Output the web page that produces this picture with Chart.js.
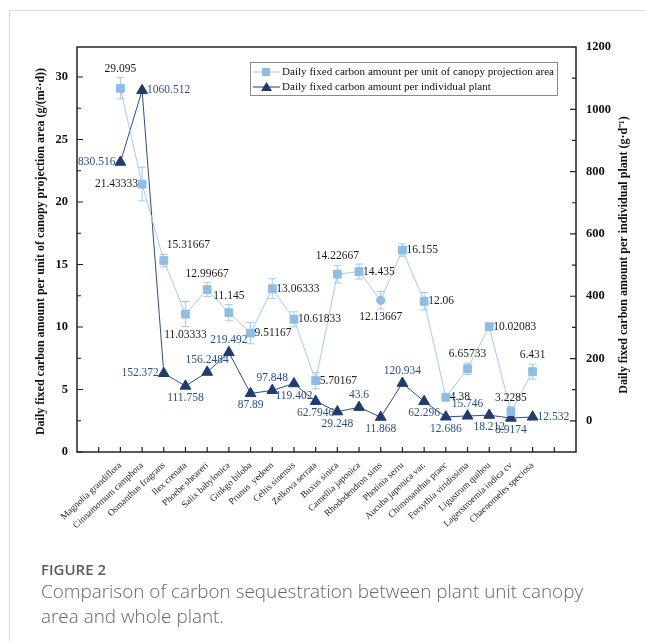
<!DOCTYPE html>
<html lang="en">
<head>
    <meta charset="UTF-8">
    <title>Figure 2</title>
    <style>
        body { margin: 0; background: #fff; }
        .frame {
            position: absolute; left: 9px; top: 10px; width: 637px; height: 631px;
            border-left: 1px solid #dcdcdc; border-top: 1px solid #dcdcdc;
        }
        #chart { position: absolute; left: 0; top: 0; }
        .fig { position: absolute; left: 41px; top: 559px; font-family: "Open Sans", sans-serif; color: #5c5c5c; }
        .fig .num { font-size: 15px; font-weight: 600; line-height: 20px; }
        .fig .cap { font-size: 18.9px; font-weight: 300; line-height: 25px; margin-top: 0px; color: #666; }
    </style>
</head>
<body>
    <div class="frame"></div>
    <canvas id="chart" width="646" height="560"></canvas>
    <div class="fig">
        <div class="num">FIGURE 2</div>
        <div class="cap">Comparison of carbon sequestration between plant unit canopy<br>area and whole plant.</div>
    </div>

    <script src="https://cdn.jsdelivr.net/npm/chart.js"></script>
    <script>
        // dados
        const plantas = ["Magnolia grandiflora", "Cinnamomum camphora", "Osmanthus fragrans", "Ilex crenata",
            "Phoebe sheareri", "Salix babylonica", "Ginkgo biloba", "Prunus  yedoen", "Celtis sinensis",
            "Zelkova serrata", "Buxus sinica", "Camellia japonica", "Rhododendron sims", "Photinia serru",
            "Aucuba japonica var.", "Chimonanthus praec", "Forsythia viridissima", "Ligustrum quihou",
            "Lagerstroemia indica cv", "Chaenomeles speciosa"];
        const porArea = [29.095, 21.43333, 15.31667, 11.03333, 12.99667, 11.145, 9.51167, 13.06333, 10.61833,
            5.70167, 14.22667, 14.435, 12.13667, 16.155, 12.06, 4.38, 6.65733, 10.02083, 3.2285, 6.431];
        const erroArea = [0.85, 1.35, 0.5, 1.0, 0.55, 0.65, 0.85, 0.8, 0.6, 0.65, 0.7, 0.6, 0.7, 0.5, 0.7,
            0.25, 0.45, 0.2, 0.4, 0.6];
        const porPlanta = [830.516, 1060.512, 152.372, 111.758, 156.2484, 219.492, 87.89, 97.848, 119.402,
            62.7946, 29.248, 43.6, 11.868, 120.934, 62.296, 12.686, 15.746, 18.212, 8.9174, 12.532];
        const ticksEsq = [0, 5, 10, 15, 20, 25, 30];
        const ticksDir = [0, 200, 400, 600, 800, 1000, 1200];

        // posicao dos rotulos: a=acima, b=abaixo, l=esquerda, r=direita, ar=acima-direita
        const posArea = ['a', 'l', 'ar', 'b', 'a', 'a', 'r', 'r', 'r', 'r', 'a', 'r', 'b', 'r', 'r', 'r', 'a', 'r', 'a', 'a'];
        const posPlanta = ['l', 'r', 'l', 'b', 'a', 'a', 'b', 'a', 'b', 'b', 'b', 'a', 'b', 'a', 'b', 'b', 'a', 'b', 'b', 'r'];

        const CLARO = "#8dbde6";
        const LINHA_CLARA = "#a3cbee";
        const ESCURO = "#1f3b6f";
        const TXT_ESCURO = "#2d4f88";
        const SERIF = "'Liberation Serif', 'Times New Roman', serif";

        // duas categorias vazias em cada ponta, como no original
        const rotulos = ['', ''].concat(plantas, ['', '']);
        const pad = arr => [null, null].concat(arr, [null, null]);
        const estilosArea = pad(plantas.map((p, i) => i === 12 ? 'circle' : 'rect'));
        const raiosArea = pad(plantas.map((p, i) => i === 12 ? 4.2 : 5.5));

        function fmt(v) { return String(v); }

        const pluginDesenho = {
            id: 'desenho',
            beforeDatasetsDraw(chart) {
                const ctx = chart.ctx;
                const x = chart.scales.x, y = chart.scales.y;
                ctx.save();
                ctx.strokeStyle = LINHA_CLARA;
                ctx.lineWidth = 1;
                porArea.forEach((v, i) => {
                    const px = x.getPixelForValue(i + 2);
                    const y1 = y.getPixelForValue(v + erroArea[i]);
                    const y2 = y.getPixelForValue(v - erroArea[i]);
                    ctx.beginPath();
                    ctx.moveTo(px, y1); ctx.lineTo(px, y2);
                    ctx.moveTo(px - 4, y1); ctx.lineTo(px + 4, y1);
                    ctx.moveTo(px - 4, y2); ctx.lineTo(px + 4, y2);
                    ctx.stroke();
                });
                ctx.restore();
            },
            afterDraw(chart) {
                const ctx = chart.ctx;
                const a = chart.chartArea;
                const x = chart.scales.x, y = chart.scales.y, y2 = chart.scales.y2;
                ctx.save();

                // caixa do grafico
                ctx.strokeStyle = "#222";
                ctx.lineWidth = 1.5;
                ctx.strokeRect(a.left, a.top, a.right - a.left, a.bottom - a.top);

                // marcas para dentro
                ctx.lineWidth = 1.2;
                ctx.beginPath();
                for (let i = 1; i <= rotulos.length - 2; i++) {
                    const px = x.getPixelForValue(i);
                    ctx.moveTo(px, a.bottom); ctx.lineTo(px, a.bottom - 5);
                }
                for (let v = 0; v <= 32; v += 2.5) {
                    const py = y.getPixelForValue(v);
                    const len = v % 5 === 0 ? 6 : 4;
                    ctx.moveTo(a.left, py); ctx.lineTo(a.left + len, py);
                }
                for (let v = 0; v <= 1100; v += 100) {
                    const py = y2.getPixelForValue(v);
                    const len = v % 200 === 0 ? 6 : 4;
                    ctx.moveTo(a.right, py); ctx.lineTo(a.right - len, py);
                }
                ctx.stroke();

                // rotulos dos pontos
                ctx.font = "11.5px " + SERIF;
                ctx.textBaseline = 'middle';
                porArea.forEach((v, i) => {
                    const px = x.getPixelForValue(i + 2);
                    const py = y.getPixelForValue(v);
                    const topo = y.getPixelForValue(v + erroArea[i]);
                    const base = y.getPixelForValue(v - erroArea[i]);
                    ctx.fillStyle = "#1a1a1a";
                    const p = posArea[i];
                    if (p === 'a') { ctx.textAlign = 'center'; ctx.fillText(fmt(v), px, topo - 9); }
                    else if (p === 'ar') { ctx.textAlign = 'left'; ctx.fillText(fmt(v), px + 3, topo - 9); }
                    else if (p === 'b') { ctx.textAlign = 'center'; ctx.fillText(fmt(v), px, base + 8); }
                    else if (p === 'l') { ctx.textAlign = 'right'; ctx.fillText(fmt(v), px - 4, py); }
                    else { ctx.textAlign = 'left'; ctx.fillText(fmt(v), px + 4, py); }
                });
                porPlanta.forEach((v, i) => {
                    const px = x.getPixelForValue(i + 2);
                    const py = y2.getPixelForValue(v);
                    ctx.fillStyle = TXT_ESCURO;
                    const p = posPlanta[i];
                    if (p === 'a') { ctx.textAlign = 'center'; ctx.fillText(fmt(v), px, py - 12); }
                    else if (p === 'b') { ctx.textAlign = 'center'; ctx.fillText(fmt(v), px, py + 12); }
                    else if (p === 'l') { ctx.textAlign = 'right'; ctx.fillText(fmt(v), px - 5, py); }
                    else { ctx.textAlign = 'left'; ctx.fillText(fmt(v), px + 5, py); }
                });

                // legenda
                const lx = 250, ly = 62;
                ctx.strokeStyle = "#8a8a8a";
                ctx.lineWidth = 1;
                ctx.strokeRect(lx + 0.5, ly + 0.5, 307, 33);
                ctx.strokeStyle = LINHA_CLARA;
                ctx.beginPath(); ctx.moveTo(lx + 3, ly + 10); ctx.lineTo(lx + 30, ly + 10); ctx.stroke();
                ctx.fillStyle = CLARO;
                ctx.fillRect(lx + 12, ly + 6, 8, 8);
                ctx.strokeStyle = ESCURO;
                ctx.beginPath(); ctx.moveTo(lx + 3, ly + 25); ctx.lineTo(lx + 30, ly + 25); ctx.stroke();
                ctx.fillStyle = ESCURO;
                ctx.beginPath(); ctx.moveTo(lx + 16.5, ly + 20); ctx.lineTo(lx + 22, ly + 29); ctx.lineTo(lx + 11, ly + 29); ctx.closePath(); ctx.fill();
                ctx.fillStyle = "#111";
                ctx.textAlign = 'left';
                ctx.font = "11.1px " + SERIF;
                ctx.fillText("Daily fixed carbon amount per unit of canopy projection area", lx + 32, ly + 10);
                ctx.fillText("Daily fixed carbon amount per individual plant", lx + 32, ly + 25);

                // titulos dos eixos
                ctx.font = "bold 12px " + SERIF;
                ctx.textAlign = 'center';
                ctx.fillStyle = "#111";
                ctx.translate(41, (a.top + a.bottom) / 2 + 2);
                ctx.rotate(-Math.PI / 2);
                ctx.fillText("Daily fixed carbon amount per unit of canopy projection area (g/(m\u00b2\u00b7d))", 0, 0);
                ctx.setTransform(1, 0, 0, 1, 0, 0);
                ctx.translate(624, 255);
                ctx.rotate(-Math.PI / 2);
                ctx.fillText("Daily fixed carbon amount per individual plant (g\u00b7d\u207b\u00b9)", 0, 0);
                ctx.restore();
            }
        };

        const chart = new Chart(document.getElementById("chart"), {
            type: "line",
            data: {
                labels: rotulos,
                datasets: [{
                    label: "Daily fixed carbon amount per unit of canopy projection area",
                    data: pad(porArea),
                    yAxisID: 'y',
                    borderColor: LINHA_CLARA,
                    borderWidth: 1,
                    backgroundColor: CLARO,
                    pointBackgroundColor: CLARO,
                    pointBorderColor: CLARO,
                    pointStyle: estilosArea,
                    pointRadius: raiosArea,
                    tension: 0,
                    order: 1
                }, {
                    label: "Daily fixed carbon amount per individual plant",
                    data: pad(porPlanta),
                    yAxisID: 'y2',
                    borderColor: "#2f4d80",
                    borderWidth: 1,
                    backgroundColor: ESCURO,
                    pointBackgroundColor: ESCURO,
                    pointBorderColor: ESCURO,
                    pointStyle: 'triangle',
                    pointRadius: 6.2,
                    tension: 0,
                    order: 2
                }]
            },
            options: {
                responsive: false,
                animation: false,
                layout: { padding: { top: 47, left: 0, right: 0, bottom: 0 } },
                plugins: { legend: { display: false }, tooltip: { enabled: false } },
                scales: {
                    x: {
                        type: 'category',
                        offset: false,
                        grid: { display: false },
                        border: { display: false },
                        ticks: {
                            autoSkip: false,
                            minRotation: 43,
                            maxRotation: 43,
                            padding: 0,
                            color: "#222",
                            font: { family: SERIF, size: 9.3 }
                        },
                        afterFit: s => { s.height = 108; }
                    },
                    y: {
                        position: 'left',
                        min: 0,
                        max: 32.4,
                        grid: { display: false, drawTicks: false },
                        border: { display: false },
                        ticks: {
                            stepSize: 5,
                            includeBounds: false,
                            padding: 9,
                            color: "#111",
                            font: { family: SERIF, size: 12.5, weight: 'bold' },
                            callback: v => ticksEsq.includes(v) ? v : ''
                        },
                        afterFit: s => { s.width = 77; }
                    },
                    y2: {
                        position: 'right',
                        min: -100,
                        max: 1200,
                        grid: { display: false, drawTicks: false },
                        border: { display: false },
                        ticks: {
                            stepSize: 200,
                            includeBounds: false,
                            padding: 10,
                            color: "#111",
                            font: { family: SERIF, size: 12.5, weight: 'bold' },
                            callback: v => ticksDir.includes(v) ? v : ''
                        },
                        afterFit: s => { s.width = 70; }
                    }
                }
            },
            plugins: [pluginDesenho]
        });
    </script>
</body>
</html>
